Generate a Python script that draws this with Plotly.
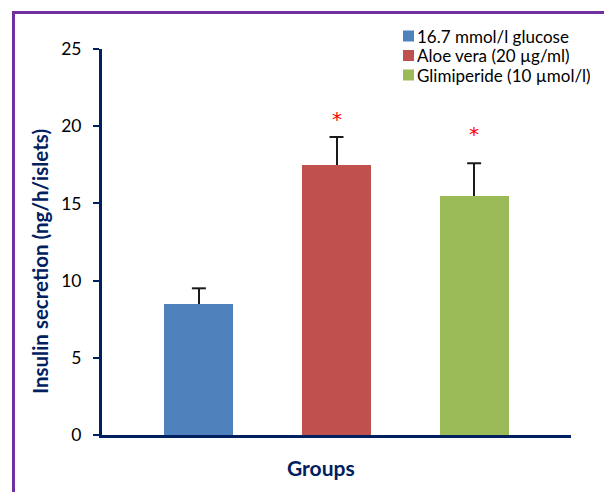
import plotly.graph_objects as go

# Insulin secretion per group (mean and upper error)
groups = ["16.7 mmol/l glucose", "Aloe vera (20 µg/ml)", "Glimiperide (10 µmol/l)"]
means = [8.5, 17.5, 15.5]
errors = [1.0, 1.8, 2.1]
colors = ["#4F81BD", "#C0504D", "#9BBB59"]
significance = ["", "*", "*"]
star_levels = [0, 20.7, 19.75]
y_ticks = [0, 5, 10, 15, 20, 25]

NAVY = "#002060"
FONT = "Lato"

# plot-area edges in pixels, used to place the frame and legend in paper units
W, H = 604, 492
L, R, T, B = 102, 571, 49, 435


def px(x):
    return (x - L) / (R - L)


def py(y):
    return (B - y) / (B - T)


fig = go.Figure()
for i, (name, m, e, c) in enumerate(zip(groups, means, errors, colors)):
    # bar with an upward whisker (cap drawn separately so none sits on the bar top)
    fig.add_trace(go.Bar(
        x=[i], y=[m], name=name, width=0.5,
        marker=dict(color=c, line=dict(width=0)),
        error_y=dict(type="data", array=[e], arrayminus=[0], symmetric=False,
                     color="#1a1a1a", thickness=2, width=0),
        showlegend=False,
    ))

# whisker caps
fig.add_trace(go.Scatter(
    x=list(range(len(groups))), y=[m + e for m, e in zip(means, errors)],
    mode="markers", showlegend=False, hoverinfo="skip",
    marker=dict(symbol="line-ew", size=10, line=dict(color="#1a1a1a", width=2)),
))

annotations = []
for i, (s, lvl) in enumerate(zip(significance, star_levels)):
    if s:
        annotations.append(dict(x=i, y=lvl, xref="x", yref="y", text=s,
                                showarrow=False,
                                font=dict(family="DejaVu Sans", size=20, color="#FF0000"),
                                yanchor="middle", yshift=-4))

# axis titles
annotations.append(dict(x=px(40), y=py(262), xref="paper", yref="paper",
                        text="<b>Insulin secretion (ng/h/islets)</b>", textangle=-90,
                        showarrow=False, font=dict(family=FONT, size=20.5, color=NAVY),
                        xanchor="center", yanchor="middle"))
annotations.append(dict(x=px(321), y=py(467), xref="paper", yref="paper",
                        text="<b>Groups</b>", showarrow=False,
                        font=dict(family=FONT, size=21, color=NAVY),
                        xanchor="center", yanchor="middle"))

# legend entries
shapes = []
legend_rows = [36, 55.5, 75]
for name, c, ry in zip(groups, colors, legend_rows):
    shapes.append(dict(type="rect", xref="paper", yref="paper",
                       x0=px(403), x1=px(414), y0=py(ry + 5.5), y1=py(ry - 5.5),
                       fillcolor=c, line=dict(width=0)))
    annotations.append(dict(x=px(415), y=py(ry), xref="paper", yref="paper",
                            text=name, showarrow=False, xanchor="left", yanchor="middle",
                            height=19, valign="middle",
                            font=dict(family=FONT, size=17, color="#000000")))

# outer purple frame
shapes.append(dict(type="rect", xref="paper", yref="paper", layer="below",
                   x0=px(13.5), y0=py(H + 20), x1=px(W + 20), y1=py(12.5),
                   line=dict(color="#7030A0", width=3), fillcolor="rgba(0,0,0,0)"))

fig.update_layout(
    width=W, height=H,
    margin=dict(l=L, r=W - R, t=T, b=H - B, pad=0),
    paper_bgcolor="white", plot_bgcolor="white",
    bargap=0, showlegend=False,
    font=dict(family=FONT, size=16, color="#000000"),
    xaxis=dict(range=[-0.704, 2.704], showticklabels=False, ticks="",
               showgrid=False, zeroline=False, showline=True,
               linecolor=NAVY, linewidth=3, fixedrange=True),
    yaxis=dict(range=[0, 25], tickvals=y_ticks, ticks="outside", ticklen=6,
               tickwidth=2, tickcolor=NAVY, showgrid=False, zeroline=False,
               showline=True, linecolor=NAVY, linewidth=3, ticklabelstandoff=8,
               tickfont=dict(family=FONT, size=17.5, color="#000000")),
    annotations=annotations,
    shapes=shapes,
)

fig.write_html("out.html")
